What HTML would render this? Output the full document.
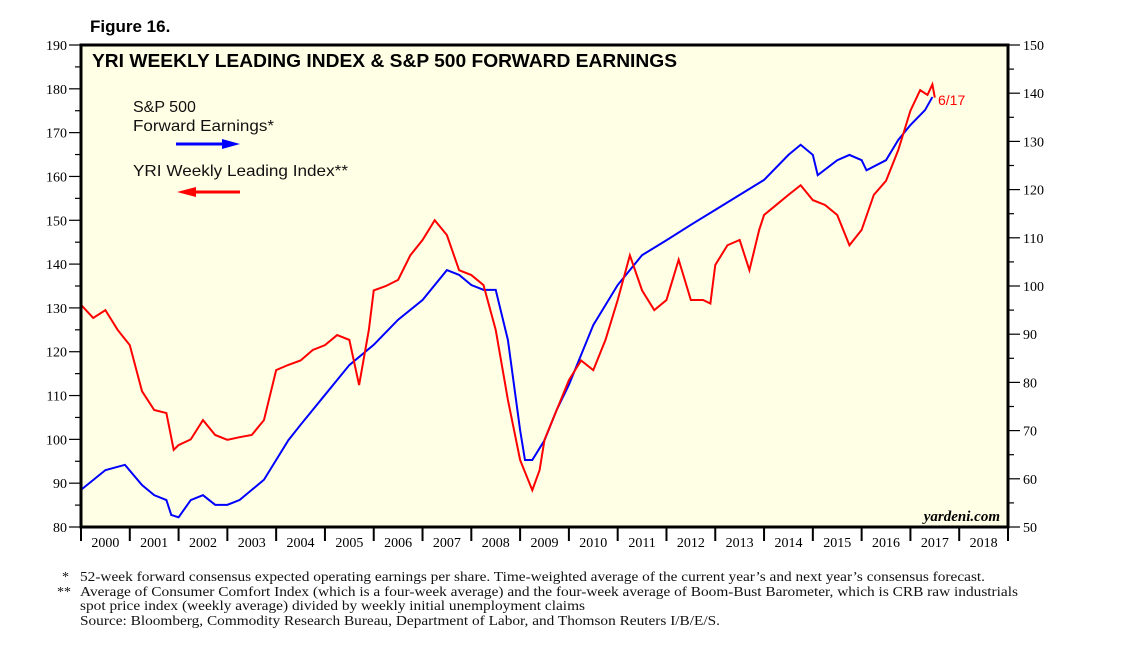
<!DOCTYPE html>
<html><head><meta charset="utf-8"><style>
body{margin:0;background:#fff;}
svg text{font-family:"Liberation Sans",sans-serif;}
</style></head><body>
<svg id="chart" width="1138" height="642" xmlns="http://www.w3.org/2000/svg">
<text x="90" y="32" font-size="17" font-weight="bold">Figure 16.</text>
<rect x="81" y="45" width="927" height="482" fill="#FFFFE6"/>
<g id="axes"></g>
<g id="series"></g>
<rect x="81" y="45" width="927" height="482" fill="none" stroke="#000" stroke-width="3"/>
<text x="92" y="67" font-size="18" font-weight="bold" textLength="585" lengthAdjust="spacingAndGlyphs">YRI WEEKLY LEADING INDEX &amp; S&amp;P 500 FORWARD EARNINGS</text>
<text x="133" y="112" font-size="16" fill="#111">S&amp;P 500</text>
<text x="133" y="131" font-size="16" fill="#111" textLength="141" lengthAdjust="spacingAndGlyphs">Forward Earnings*</text>
<g><line x1="176" y1="144" x2="225" y2="144" stroke="#0000ff" stroke-width="3"/><polygon points="222,139 240,144 222,149" fill="#0000ff"/></g>
<text x="133" y="176" font-size="16" fill="#111" textLength="215" lengthAdjust="spacingAndGlyphs">YRI Weekly Leading Index**</text>
<g><line x1="193" y1="192" x2="240" y2="192" stroke="#ff0000" stroke-width="3"/><polygon points="196,187 177,192 196,197" fill="#ff0000"/></g>
<text x="938" y="105" font-size="14" fill="#ff0000">6/17</text>
<text x="1000" y="521" font-size="15" font-style="italic" font-weight="bold" text-anchor="end" style="font-family:'Liberation Serif',serif">yardeni.com</text>
<g font-size="14" fill="#111">
<text x="62" y="581" style="font-family:'Liberation Serif',serif">*</text>
<text x="80" y="581" textLength="905" lengthAdjust="spacingAndGlyphs" style="font-family:'Liberation Serif',serif">52-week forward consensus expected operating earnings per share. Time-weighted average of the current year’s and next year’s consensus forecast.</text>
<text x="57" y="596" style="font-family:'Liberation Serif',serif">**</text>
<text x="80" y="596" textLength="938" lengthAdjust="spacingAndGlyphs" style="font-family:'Liberation Serif',serif">Average of Consumer Comfort Index (which is a four-week average) and the four-week average of Boom-Bust Barometer, which is CRB raw industrials</text>
<text x="80" y="610" textLength="505" lengthAdjust="spacingAndGlyphs" style="font-family:'Liberation Serif',serif">spot price index (weekly average) divided by weekly initial unemployment claims</text>
<text x="80" y="625" textLength="640" lengthAdjust="spacingAndGlyphs" style="font-family:'Liberation Serif',serif">Source: Bloomberg, Commodity Research Bureau, Department of Labor, and Thomson Reuters I/B/E/S.</text>
</g>
</svg>
<script>
const leftTicks=[80,90,100,110,120,130,140,150,160,170,180,190];
const rightTicks=[50,60,70,80,90,100,110,120,130,140,150];
const years=[2000,2001,2002,2003,2004,2005,2006,2007,2008,2009,2010,2011,2012,2013,2014,2015,2016,2017,2018];
const leadT=[2000.0,2000.25,2000.5,2000.75,2001.0,2001.25,2001.5,2001.75,2001.9,2002.0,2002.25,2002.5,2002.75,2003.0,2003.25,2003.5,2003.75,2004.0,2004.25,2004.5,2004.75,2005.0,2005.25,2005.5,2005.7,2005.9,2006.0,2006.25,2006.5,2006.75,2007.0,2007.25,2007.5,2007.75,2008.0,2008.25,2008.5,2008.75,2009.0,2009.25,2009.4,2009.5,2009.75,2010.0,2010.25,2010.5,2010.75,2011.0,2011.25,2011.5,2011.75,2012.0,2012.25,2012.5,2012.75,2012.9,2013.0,2013.25,2013.5,2013.7,2013.9,2014.0,2014.25,2014.5,2014.75,2015.0,2015.25,2015.5,2015.75,2016.0,2016.25,2016.5,2016.75,2017.0,2017.2,2017.35,2017.45,2017.5];
const leadV=[130.7,127.7,129.5,125,121.5,111,106.7,106,97.6,98.7,100,104.4,101,99.9,100.5,101,104.4,115.8,117,118,120.4,121.5,123.8,122.7,112.4,125,134,135,136.4,142,145.5,150,146.6,138.6,137.5,135.2,125,109,95.3,88.4,93,99.9,106.7,113.5,118,115.8,122.7,131.8,142,134,129.5,131.8,141,131.8,131.8,131,139.8,144.3,145.5,138.6,147.8,151.2,153.5,155.8,158,154.6,153.5,151.2,144.3,147.8,155.8,159,166,175,179.7,178.6,181,178];
const earnT=[2000.0,2000.5,2000.9,2001.25,2001.5,2001.75,2001.85,2002.0,2002.25,2002.5,2002.75,2003.0,2003.25,2003.5,2003.75,2004.0,2004.25,2004.5,2004.75,2005.0,2005.5,2006.0,2006.5,2007.0,2007.5,2007.75,2008.0,2008.25,2008.5,2008.75,2009.0,2009.1,2009.25,2009.5,2009.75,2010.0,2010.5,2011.0,2011.5,2012.0,2012.5,2013.0,2013.5,2014.0,2014.5,2014.75,2015.0,2015.1,2015.5,2015.75,2016.0,2016.1,2016.5,2016.75,2017.0,2017.3,2017.45];
const earnV=[57.7,61.8,62.9,58.7,56.6,55.6,52.5,52,55.6,56.6,54.6,54.6,55.6,57.7,59.8,63.9,68,71.2,74.3,77.4,83.6,87.8,93,97.1,103.3,102.3,100.2,99.2,99.2,88.8,70.1,63.9,63.9,68,74.3,79.5,91.9,100.2,106.4,109.5,112.7,115.8,118.9,122,127.2,129.3,127.2,123,126.1,127.2,126.1,124,126.1,130.3,133.4,136.5,139.2];
const X0=81,X1=1008,Y0=527,Y1=45;
const x=t=>X0+(t-2000)/19*(X1-X0);
const yL=v=>Y0-(v-80)/110*(Y0-Y1);
const yR=v=>Y0-(v-50)/100*(Y0-Y1);
const NS='http://www.w3.org/2000/svg';
const axes=document.getElementById('axes'),ser=document.getElementById('series');
function mk(tag,attrs,parent){const e=document.createElementNS(NS,tag);for(const k in attrs)e.setAttribute(k,attrs[k]);parent.appendChild(e);return e;}
leftTicks.forEach(v=>{
 const l=mk('line',{x1:X0-12,x2:X0,y1:yL(v),y2:yL(v),stroke:'#000','stroke-width':1.2},axes);
 
 
 if(v<190){const m=mk('line',{x1:X0-6,x2:X0,y1:yL(v+5),y2:yL(v+5),stroke:'#000','stroke-width':1.2},axes);
 
 }
 const t=mk('text',{x:X0-14,y:yL(v)+5,'font-size':14,'text-anchor':'end',style:"font-family:'Liberation Serif',serif"},axes);t.textContent=v;
 
 
});
rightTicks.forEach(v=>{
 const l=mk('line',{x1:X1,x2:X1+12,y1:yR(v),y2:yR(v),stroke:'#000','stroke-width':1.2},axes);
 
 
 if(v<150){const m=mk('line',{x1:X1,x2:X1+6,y1:yR(v+5),y2:yR(v+5),stroke:'#000','stroke-width':1.2},axes);
 
 }
 const t=mk('text',{x:X1+15,y:yR(v)+5,'font-size':14,style:"font-family:'Liberation Serif',serif"},axes);t.textContent=v;
 
 
});
years.forEach(yr=>{
 const l=mk('line',{x1:x(yr),x2:x(yr),y1:Y0,y2:Y0+14,stroke:'#000','stroke-width':2},axes);
 
 
 const t=mk('text',{x:x(yr+0.5),y:Y0+20,'font-size':14,'text-anchor':'middle',style:"font-family:'Liberation Serif',serif"},axes);t.textContent=yr;
 
 
});
const l2=mk('line',{x1:X1,x2:X1,y1:Y0,y2:Y0+14,stroke:'#000','stroke-width':2},axes);


const pe=mk('polyline',{points:earnT.map((t,i)=>x(t)+','+yR(earnV[i])).join(' '),fill:'none',stroke:'#0000ff','stroke-width':2},ser);


const pl=mk('polyline',{points:leadT.map((t,i)=>x(t)+','+yL(leadV[i])).join(' '),fill:'none',stroke:'#ff0000','stroke-width':2},ser);


</script>
</body></html>
